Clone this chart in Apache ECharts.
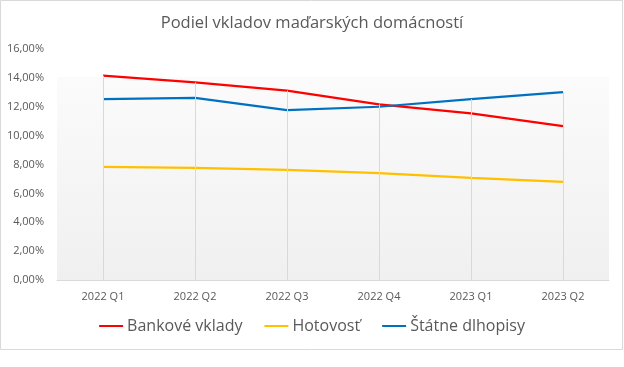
<!DOCTYPE html>
<html><head><meta charset="utf-8">
<script src="https://cdn.jsdelivr.net/npm/echarts@6/dist/echarts.min.js"></script>
<style>html,body{margin:0;padding:0;background:#fff}#c{width:624px;height:367px}</style>
</head><body><div id="c"></div>
<script>
var categories = ['2022 Q1','2022 Q2','2022 Q3','2022 Q4','2023 Q1','2023 Q2'];
var bankove = [14.15, 13.69, 13.11, 12.17, 11.54, 10.66];
var hotovost = [7.83, 7.76, 7.62, 7.41, 7.08, 6.79];
var statne = [12.53, 12.62, 11.77, 12.00, 12.53, 13.02];
var yTicks = {min: 0, max: 16, interval: 2};
var titleText = 'Podiel vkladov maďarských domácností';
var names = ['Bankové vklady', 'Hotovosť', 'Štátne dlhopisy'];

var font = '"Open Sans", sans-serif';
var dropData = categories.map(function(c, i){
  var m = Math.max(bankove[i], hotovost[i], statne[i]);
  return [{coord: [c, m]}, {coord: [c, 0]}];
});
var chart = echarts.init(document.getElementById('c'), null, {renderer: 'canvas'});
chart.setOption({
  animation: false,
  backgroundColor: '#fff',
  textStyle: {fontFamily: font},
  graphic: [{type: 'rect', shape: {x: 0.5, y: 0.5, width: 622, height: 349}, style: {fill: 'none', stroke: '#d9d9d9', lineWidth: 1}, z: 0}],
  title: {text: titleText, left: 'center', top: 10, textStyle: {fontFamily: font, fontSize: 16.5, fontWeight: 'normal', color: '#595959'}},
  legend: {
    data: names, bottom: 28, left: 'center', icon: 'rect', itemWidth: 24, itemHeight: 2, itemGap: 22,
    textStyle: {fontFamily: font, fontSize: 16, color: '#595959', padding: [0, 0, 0, -1]}
  },
  grid: {left: 57, right: 15, top: 49, bottom: 87,
    show: true, borderWidth: 0,
    backgroundColor: {type: 'linear', x: 0, y: 0, x2: 0, y2: 1, colorStops: [
      {offset: 0, color: '#ffffff'}, {offset: 0.12, color: '#ffffff'}, {offset: 0.121, color: '#fbfbfb'}, {offset: 1, color: '#f0f0f0'}]}
  },
  xAxis: {type: 'category', data: categories, boundaryGap: true,
    axisLine: {lineStyle: {color: '#d9d9d9'}}, axisTick: {show: false},
    axisLabel: {fontFamily: font, fontSize: 11, color: '#595959', margin: 11}, splitLine: {show: false}},
  yAxis: {type: 'value', min: yTicks.min, max: yTicks.max, interval: yTicks.interval,
    axisLine: {show: false}, axisTick: {show: false}, splitLine: {show: false},
    axisLabel: {fontFamily: font, fontSize: 11, color: '#595959', margin: 13,
      formatter: function(v){ return v.toFixed(2).replace('.', ',') + '%'; }}},
  series: [
    {name: '_drop', type: 'line', data: categories.map(function(){ return null; }), z: 1, silent: true,
      markLine: {silent: true, symbol: 'none', label: {show: false}, lineStyle: {color: '#d9d9d9', width: 1, type: 'solid'}, data: dropData}},
    {name: names[0], type: 'line', data: bankove, showSymbol: false, symbol: 'none', z: 3, lineStyle: {color: '#ff0000', width: 2.25}, itemStyle: {color: '#ff0000'}},
    {name: names[1], type: 'line', data: hotovost, showSymbol: false, symbol: 'none', z: 3, lineStyle: {color: '#ffc000', width: 2.25}, itemStyle: {color: '#ffc000'}},
    {name: names[2], type: 'line', data: statne, showSymbol: false, symbol: 'none', z: 3, lineStyle: {color: '#0070c0', width: 2.25}, itemStyle: {color: '#0070c0'}}
  ]
});
</script></body></html>
